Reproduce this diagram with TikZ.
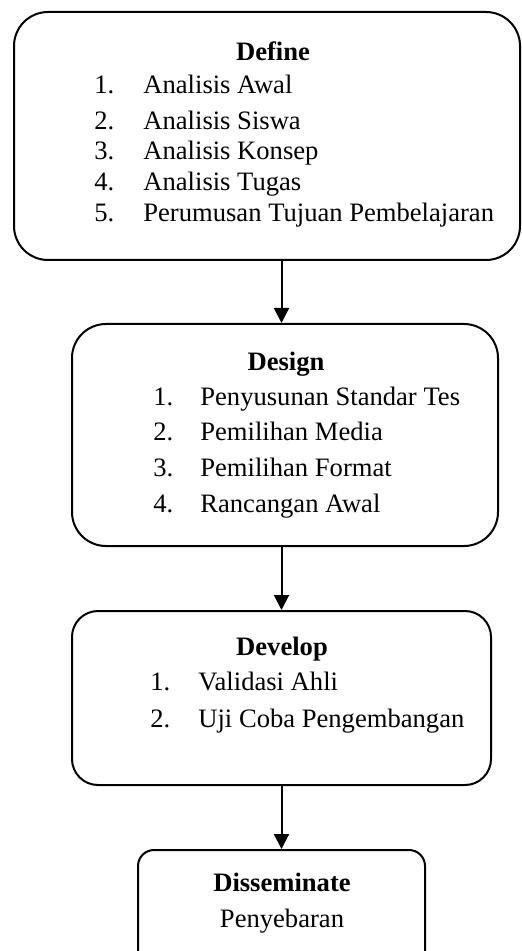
\documentclass[tikz,border=0pt]{standalone}
\usepackage{fontspec}
\setmainfont{Liberation Serif}
\usepackage{tikz}
\usetikzlibrary{positioning,arrows.meta,calc}

\begin{document}
\begin{tikzpicture}[x=0.5pt, y=-0.5pt, font=\fontsize{13.3}{16}\selectfont,
  stage/.style={draw, line width=1pt, rectangle},
  head/.style={font=\fontsize{13.3}{16}\selectfont\bfseries, anchor=base, inner sep=0pt},
  item/.style={anchor=base west, inner sep=0pt},
  flow/.style={-{Triangle[width=7.5pt,length=7.5pt]}, line width=1pt}]
\useasboundingbox (0,0) rectangle (521,951);
% stage boxes
\node[stage, rounded corners=17pt, minimum width=253pt, minimum height=124pt] (define) at (267,136) {};
\node[stage, rounded corners=17pt, minimum width=213pt, minimum height=111pt] (design) at (285,435) {};
\node[stage, rounded corners=13pt, minimum width=209.5pt, minimum height=87pt] (develop) at (281.5,698) {};
\node[stage, rounded corners=8pt, minimum width=143.5pt, minimum height=60pt] (disseminate) at (281.5,910) {};
% define
\node[head] (defineHead) at (273,61) {Define};
\foreach \n/\t/\y in {1/Analisis Awal/94, 2/Analisis Siswa/130, 3/Analisis Konsep/160,
    4/Analisis Tugas/191, 5/Perumusan Tujuan Pembelajaran/222}
  \node[item] (define\n) at (94,\y) {\makebox[24.5pt][l]{\n.}\t};
% design
\node[head] (designHead) at (286,371) {Design};
\foreach \n/\t/\y in {1/Penyusunan Standar Tes/405, 2/Pemilihan Media/440,
    3/Pemilihan Format/476, 4/Rancangan Awal/512}
  \node[item] (design\n) at (153,\y) {\makebox[23.5pt][l]{\n.}\t};
% develop
\node[head] (developHead) at (282,655) {Develop};
\foreach \n/\t/\y in {1/Validasi Ahli/690, 2/Uji Coba Pengembangan/727}
  \node[item] (develop\n) at (150,\y) {\makebox[24pt][l]{\n.}\t};
% disseminate
\node[head] (disseminateHead) at (282,891) {Disseminate};
\node[anchor=base, inner sep=0pt] (disseminateText) at (282,927) {Penyebaran};
% arrows between stages
\draw[flow] (define.south -| develop.north) -- (design.north -| develop.north);
\draw[flow] (design.south -| develop.north) -- (develop.north);
\draw[flow] (develop.south) -- (disseminate.north);
\end{tikzpicture}
\end{document}
